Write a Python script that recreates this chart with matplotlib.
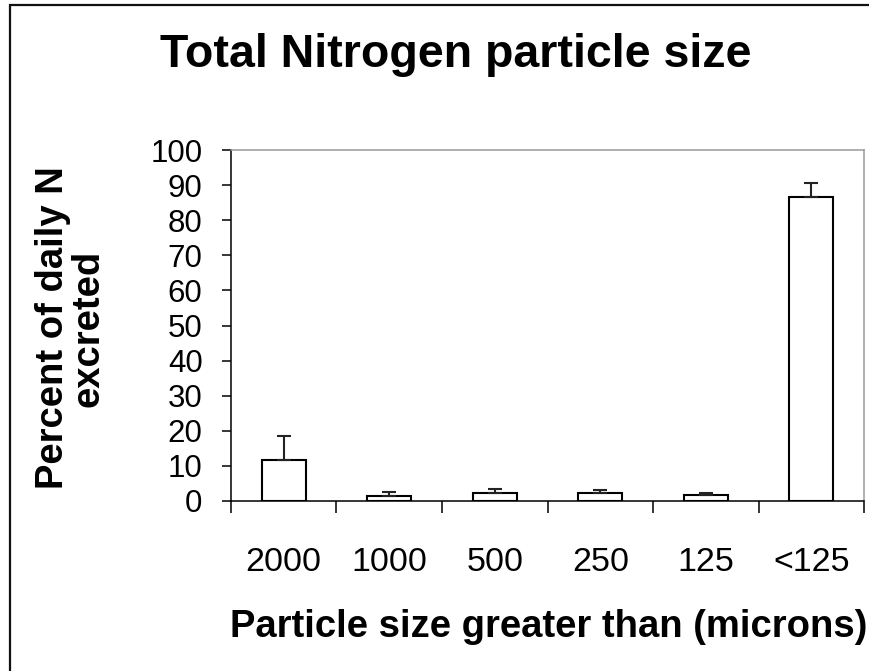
import matplotlib.pyplot as plt
from matplotlib.patches import Rectangle

# Data
categories = ["2000", "1000", "500", "250", "125", "<125"]
percent_n = [11.8, 1.3, 2.2, 2.2, 1.8, 86.5]
err_upper = [6.7, 1.2, 1.1, 0.8, 0.4, 4.2]

plt.rcParams['font.family'] = ['Liberation Sans', 'DejaVu Sans']

W, H = 870, 671
fig = plt.figure(figsize=(W / 100, H / 100), dpi=100)
fig.patch.set_facecolor('white')

# plot area in pixel coordinates of the reference
left, right, top, bottom = 231, 864, 150, 501
ax = fig.add_axes([left / W, 1 - bottom / H, (right - left) / W, (bottom - top) / H])

x = list(range(len(categories)))
ax.bar(x, percent_n, width=0.415, color='white', edgecolor='black', linewidth=1.5, zorder=2)
ax.errorbar(x, percent_n, yerr=[[0] * len(err_upper), err_upper], fmt='none',
            ecolor='#222222', elinewidth=1.5, capsize=4.7, capthick=1.5, zorder=3)

ax.set_xlim(-0.5, len(categories) - 0.5)
ax.set_ylim(0, 100)
ax.set_yticks(range(0, 101, 10))
ax.tick_params(axis='y', direction='out', length=6.5, width=1.1, pad=14, labelsize=22.5)

# Excel style: category ticks sit between the bars
ax.set_xticks(x)
ax.set_xticklabels(categories)
ax.set_xticks([i - 0.5 for i in range(len(categories) + 1)], minor=True)
ax.tick_params(axis='x', which='major', length=0, pad=33, labelsize=24.5)
ax.tick_params(axis='x', which='minor', direction='out', length=8.6, width=1.1)

for side in ['left', 'bottom']:
    ax.spines[side].set_color('black')
    ax.spines[side].set_linewidth(1.1)
for side in ['top', 'right']:
    ax.spines[side].set_color('#9a9a9a')
    ax.spines[side].set_linewidth(1.1)

# titles as figure text so they land where the reference has them
fig.text(456 / W, 1 - 55 / H, "Total Nitrogen particle size", ha='center', va='center',
         fontsize=33.5, fontweight='bold')
fig.text(549 / W, 1 - 637 / H, "Particle size greater than (microns)", ha='center',
         va='baseline', fontsize=27.5, fontweight='bold')
fig.text(71 / W, 1 - 328 / H, "Percent of daily N\nexcreted", ha='center', va='center',
         rotation=90, fontsize=27.5, fontweight='bold', linespacing=1.0)

# outer chart frame (cut off at right and bottom in the reference)
fig.patches.append(Rectangle((10 / W, -0.1), 1.2, 1 - 5 / H + 0.1, transform=fig.transFigure,
                             fill=False, edgecolor='#111111', linewidth=1.6))

fig.savefig("out.png", dpi=100, facecolor='white')
